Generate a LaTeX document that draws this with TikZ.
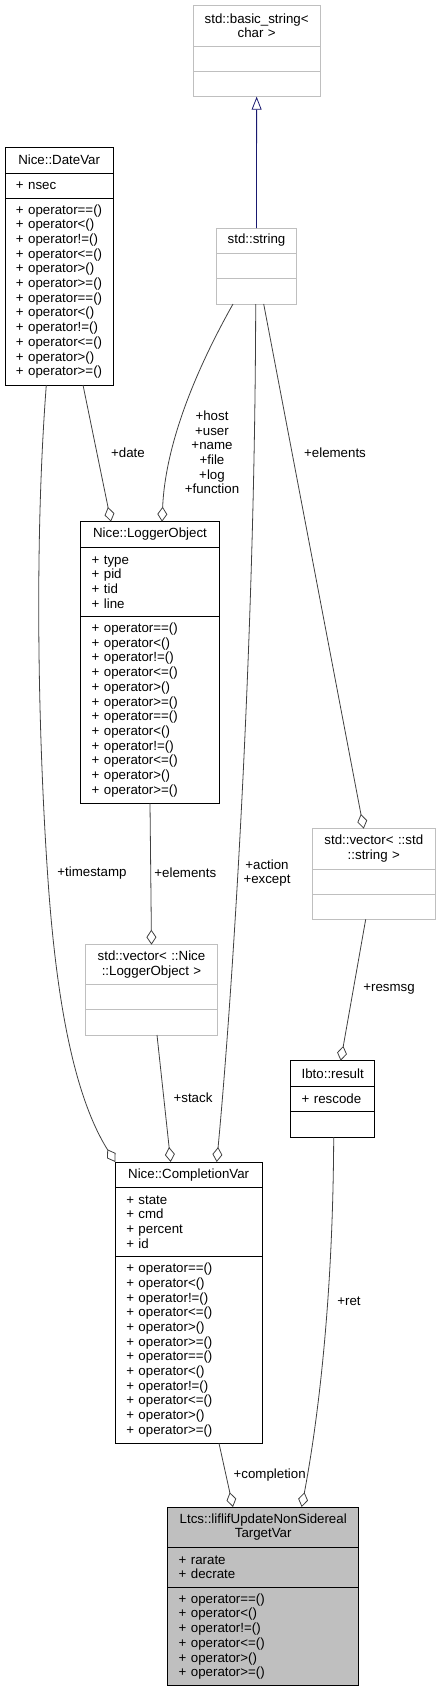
\documentclass[tikz,border=0pt]{standalone}
\usepackage{fontspec}
\setmainfont{Liberation Sans}
\usetikzlibrary{positioning,arrows.meta}

\definecolor{edgegray}{HTML}{404040}
\definecolor{extgray}{HTML}{BFBFBF}
\definecolor{inhblue}{HTML}{191970}

\tikzset{
  every node/.style={font=\fontsize{13.3}{14.7}\selectfont, outer sep=0pt, inner ysep=0pt},
  hdbox/.style={draw, line width=1pt, inner xsep=5pt, minimum width=#1, text width=#1-10pt, align=center},
  bdbox/.style={draw, line width=1pt, inner xsep=11pt, minimum width=#1, text width=#1-22pt, align=left},
  ext/.style={draw=extgray},
  main/.style={fill=extgray},
  agg/.style={draw=edgegray, line width=0.8pt, -{Diamond[open, length=15pt, width=10pt]}},
  inh/.style={draw=inhblue, line width=0.8pt, -{Triangle[open, length=13pt, width=10pt]}},
  lbl/.style={align=center}
}

\newcommand{\opslist}{+ operator==()\\+ operator<()\\+ operator!=()\\+ operator<=()\\+ operator>()\\+ operator>=()}

\begin{document}
\begin{tikzpicture}[x=1pt, y=-1pt]
\useasboundingbox (0,0) rectangle (441,1692);

% std::basic_string< char >
\node[hdbox=126.7pt, ext, minimum height=40.3pt, anchor=north west] (bs) at (193.3,5.7) {std::basic\_string<\\char >};
\node[bdbox=126.7pt, ext, minimum height=25pt, below=0pt of bs] (bs-a) {};
\node[bdbox=126.7pt, ext, minimum height=25.7pt, below=0pt of bs-a] (bs-m) {};

% std::string
\node[hdbox=79.6pt, ext, minimum height=25pt, anchor=north west] (str) at (216.7,228) {std::string};
\node[bdbox=79.6pt, ext, minimum height=25.3pt, below=0pt of str] (str-a) {};
\node[bdbox=79.6pt, ext, minimum height=25.7pt, below=0pt of str-a] (str-m) {};

% Nice::DateVar
\node[hdbox=108.3pt, minimum height=26pt, anchor=north west] (dv) at (5,147) {Nice::DateVar};
\node[bdbox=108.3pt, minimum height=25pt, below=0pt of dv] (dv-a) {+ nsec};
\node[bdbox=108.3pt, minimum height=187pt, below=0pt of dv-a] (dv-m) {\opslist\\\opslist};

% Nice::LoggerObject
\node[hdbox=138.6pt, minimum height=25.3pt, anchor=north west] (lo) at (80.7,521.7) {Nice::LoggerObject};
\node[bdbox=138.6pt, minimum height=69.7pt, below=0pt of lo] (lo-a) {+ type\\+ pid\\+ tid\\+ line};
\node[bdbox=138.6pt, minimum height=186.6pt, below=0pt of lo-a] (lo-m) {\opslist\\\opslist};

% std::vector< ::std::string >
\node[hdbox=123pt, ext, minimum height=40.3pt, anchor=north west] (vs) at (312.3,828.7) {std::vector< ::std\\::string >};
\node[bdbox=123pt, ext, minimum height=25pt, below=0pt of vs] (vs-a) {};
\node[bdbox=123pt, ext, minimum height=25.3pt, below=0pt of vs-a] (vs-m) {};

% std::vector< ::Nice::LoggerObject >
\node[hdbox=131.6pt, ext, minimum height=40pt, anchor=north west] (vl) at (85.7,944.7) {std::vector< ::Nice\\::LoggerObject >};
\node[bdbox=131.6pt, ext, minimum height=25pt, below=0pt of vl] (vl-a) {};
\node[bdbox=131.6pt, ext, minimum height=25.3pt, below=0pt of vl-a] (vl-m) {};

% Ibto::result
\node[hdbox=84pt, minimum height=25.3pt, anchor=north west] (ir) at (290.7,1060.7) {Ibto::result};
\node[bdbox=84pt, minimum height=25pt, below=0pt of ir] (ir-a) {+ rescode};
\node[bdbox=84pt, minimum height=26pt, below=0pt of ir-a] (ir-m) {};

% Nice::CompletionVar
\node[hdbox=146.7pt, minimum height=25.3pt, anchor=north west] (cv) at (115.3,1162) {Nice::CompletionVar};
\node[bdbox=146.7pt, minimum height=69.4pt, below=0pt of cv] (cv-a) {+ state\\+ cmd\\+ percent\\+ id};
\node[bdbox=146.7pt, minimum height=186.6pt, below=0pt of cv-a] (cv-m) {\opslist\\\opslist};

% Ltcs::liflifUpdateNonSiderealTargetVar
\node[hdbox=191pt, main, minimum height=40pt, anchor=north west] (lt) at (167.7,1507) {Ltcs::liflifUpdateNonSidereal\\TargetVar};
\node[bdbox=191pt, main, minimum height=40.3pt, below=0pt of lt] (lt-a) {+ rarate\\+ decrate};
\node[bdbox=191pt, main, minimum height=98.4pt, below=0pt of lt-a] (lt-m) {\opslist};

% edges
\draw[inh] (str.north) -- (bs-m.south);
\draw[agg] ([xshift=16.3pt]str-m.south west) .. controls (210,345) and (166,430) .. ([xshift=81.3pt]lo.north west);
\draw[agg] ([xshift=78pt]dv-m.south west) -- ([xshift=30.3pt]lo.north west);
\draw[agg] ([xshift=41.3pt]dv-m.south west) .. controls (33,560) and (39.6,760) .. (48,880)
  .. controls (55,980) and (70,1090) .. (cv.north west);
\draw[agg] ([xshift=39pt]str-m.south west) .. controls (255,650) and (232,1000) .. ([xshift=101.4pt]cv.north west);
\draw[agg] ([xshift=47pt]str-m.south west) -- ([xshift=51.4pt]vs.north west);
\draw[agg] (lo-m.south) -- (vl.north);
\draw[agg] ([xshift=71.3pt]vl-m.south west) -- ([xshift=55.4pt]cv.north west);
\draw[agg] ([xshift=53.4pt]vs-m.south west) -- ([xshift=50pt]ir.north west);
\draw[agg] ([xshift=43pt]ir-m.south west) .. controls (333,1300) and (318,1420) .. ([xshift=134pt]lt.north west);
\draw[agg] ([xshift=103.7pt]cv-m.south west) -- ([xshift=65.3pt]lt.north west);

% edge labels
\node[lbl] (l-host) at (212,452.4) {+host\\+user\\+name\\+file\\+log\\+function};
\node[lbl] (l-date) at (128,452.7) {+date};
\node[lbl] (l-elem1) at (335,452.7) {+elements};
\node[lbl] (l-stamp) at (92,872.7) {+timestamp};
\node[lbl] (l-elem2) at (185.3,872.7) {+elements};
\node[lbl] (l-act) at (267,873.2) {+action\\+except};
\node[lbl] (l-resmsg) at (389,989) {+resmsg};
\node[lbl] (l-stack) at (193,1097.7) {+stack};
\node[lbl] (l-ret) at (349,1301.7) {+ret};
\node[lbl] (l-compl) at (269.7,1475) {+completion};
\end{tikzpicture}
\end{document}
